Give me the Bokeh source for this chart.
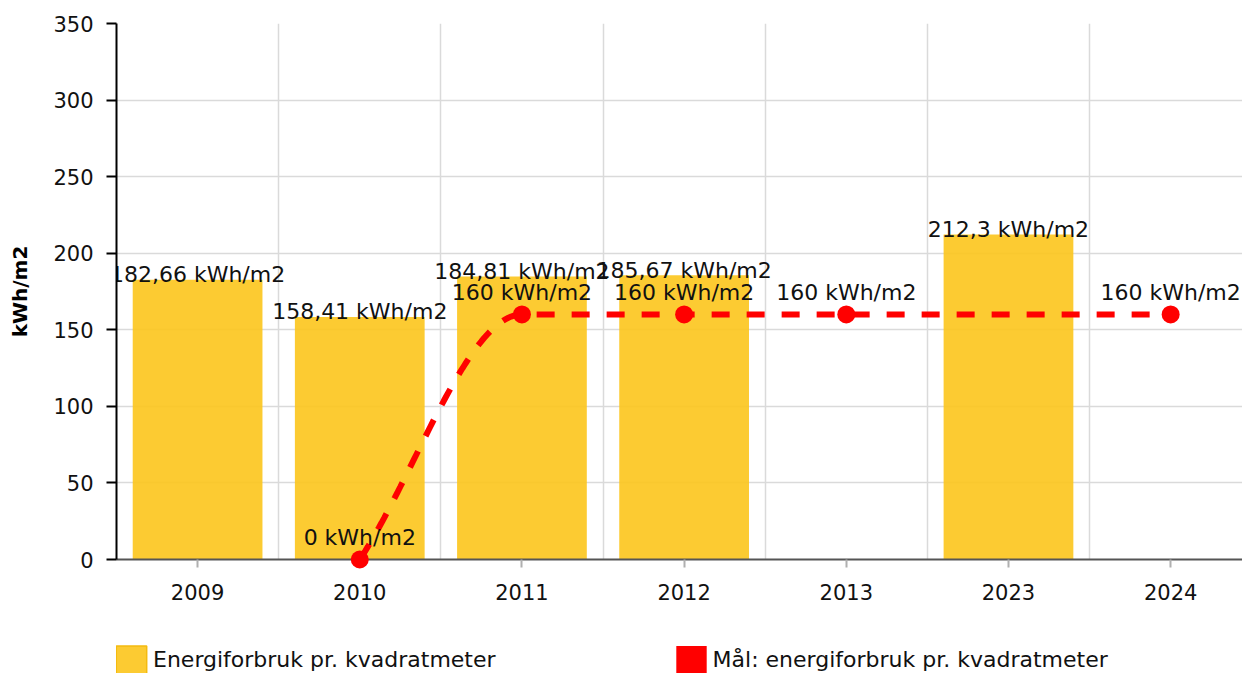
from bokeh.plotting import figure
from bokeh.layouts import column
from bokeh.models import FixedTicker, Range1d, Legend, LegendItem, ColumnDataSource
from bokeh.core.properties import value
from bokeh.embed import file_html
from bokeh.resources import INLINE

# ---- data ----
years = ["2009", "2010", "2011", "2012", "2013", "2023", "2024"]
usage = [182.66, 158.41, 184.81, 185.67, None, 212.3, None]
target = [None, 0, 160, 160, 160, None, 160]
y_ticks = [0, 50, 100, 150, 200, 250, 300, 350]
unit = "kWh/m2"
usage_name = "Energiforbruk pr. kvadratmeter"
target_name = "Mål: energiforbruk pr. kvadratmeter"

FONT = "DejaVu Sans"
TXT = "#111111"
BAR = "#fcc51c"
RED = "#ff0000"


def fmt(v):
    return f"{v:g}".replace(".", ",") + " " + unit


# bars
bx = [i for i, v in enumerate(usage) if v is not None]
btop = [v for v in usage if v is not None]
bar_src = ColumnDataSource(dict(x=bx, top=btop, label=[fmt(v) for v in btop]))

# target line points (nulls connected)
tx = [i for i, v in enumerate(target) if v is not None]
ty = [v for v in target if v is not None]
line_src = ColumnDataSource(dict(x=tx, y=ty, label=[fmt(v) for v in ty]))


def monotone_path(px, py, steps=60):
    """Monotone cubic (Fritsch-Carlson) interpolation, rendered as Bezier."""
    n = len(px)
    dk = [(py[i + 1] - py[i]) / (px[i + 1] - px[i]) for i in range(n - 1)]
    mk = [0.0] * n
    for i in range(n):
        if i == 0:
            mk[i] = dk[0]
        elif i == n - 1:
            mk[i] = dk[-1]
        elif (dk[i - 1] > 0) - (dk[i - 1] < 0) != (dk[i] > 0) - (dk[i] < 0):
            mk[i] = 0.0
        else:
            mk[i] = (dk[i - 1] + dk[i]) / 2
    for i in range(n - 1):
        if dk[i] == 0:
            mk[i] = mk[i + 1] = 0.0
            continue
        a, b = mk[i] / dk[i], mk[i + 1] / dk[i]
        s = a * a + b * b
        if s > 9:
            t = 3 / s ** 0.5
            mk[i], mk[i + 1] = t * a * dk[i], t * b * dk[i]
    xs, ys = [px[0]], [py[0]]
    for i in range(n - 1):
        h = (px[i + 1] - px[i]) / 3
        p0 = (px[i], py[i])
        c1 = (px[i] + h, py[i] + mk[i] * h)
        c2 = (px[i + 1] - h, py[i + 1] - mk[i + 1] * h)
        p3 = (px[i + 1], py[i + 1])
        for k in range(1, steps + 1):
            t = k / steps
            a, b, c, e = (1 - t) ** 3, 3 * (1 - t) ** 2 * t, 3 * (1 - t) * t ** 2, t ** 3
            xs.append(a * p0[0] + b * c1[0] + c * c2[0] + e * p3[0])
            ys.append(a * p0[1] + b * c1[1] + c * c2[1] + e * p3[1])
    return xs, ys


cx, cy = monotone_path(tx, ty)

p = figure(width=1242, height=630,
           x_range=Range1d(-0.5, 6.443), y_range=Range1d(0, 350),
           output_backend="svg", toolbar_location=None,
           min_border_left=116, min_border_right=0, min_border_top=23,
           min_border_bottom=71)
p.outline_line_color = None

# axes
p.yaxis.ticker = FixedTicker(ticks=y_ticks)
p.yaxis.axis_line_color = "black"
p.yaxis.axis_line_width = 2
p.yaxis.major_tick_line_color = "black"
p.yaxis.major_tick_line_width = 2
p.yaxis.major_tick_out = 10
p.yaxis.major_tick_in = 0
p.yaxis.minor_tick_line_color = None
p.yaxis.major_label_text_font = FONT
p.yaxis.major_label_text_font_size = "21px"
p.yaxis.major_label_text_color = TXT
p.yaxis.major_label_standoff = 13
p.yaxis.axis_label = unit
p.yaxis.axis_label_text_font = FONT
p.yaxis.axis_label_text_font_size = "20px"
p.yaxis.axis_label_text_font_style = "bold"
p.yaxis.axis_label_text_color = "black"
p.yaxis.axis_label_standoff = 18

p.xaxis.ticker = FixedTicker(ticks=list(range(len(years))))
p.xaxis.major_label_overrides = {i: y for i, y in enumerate(years)}
p.xaxis.axis_line_color = "#555555"
p.xaxis.axis_line_width = 2
p.xaxis.major_tick_line_color = "#b0b0b0"
p.xaxis.major_tick_line_width = 2
p.xaxis.major_tick_out = 8
p.xaxis.major_tick_in = 0
p.xaxis.minor_tick_line_color = None
p.xaxis.major_label_text_font = FONT
p.xaxis.major_label_text_font_size = "21px"
p.xaxis.major_label_text_color = TXT
p.xaxis.major_label_standoff = 16

# grids
p.ygrid.ticker = FixedTicker(ticks=y_ticks)
p.ygrid.grid_line_color = "#dadada"
p.ygrid.grid_line_width = 1.5
p.xgrid.ticker = FixedTicker(ticks=[i + 0.5 for i in range(len(years) - 1)])
p.xgrid.grid_line_color = "#dadada"
p.xgrid.grid_line_width = 1.5

# bars
bars = p.vbar(x="x", top="top", width=0.8, source=bar_src,
              fill_color=BAR, fill_alpha=0.9, line_color=None)
p.text(x="x", y="top", text="label", source=bar_src,
       text_font=value(FONT), text_font_size="22px", text_color=TXT,
       text_align="center", text_baseline="alphabetic", y_offset=-5)

# target curve
p.line(cx, cy, line_color=RED, line_width=6, line_dash="18 17")
p.scatter(x="x", y="y", source=line_src, size=18, marker="circle",
          fill_color=RED, line_color=None, level="overlay")
p.text(x="x", y="y", text="label", source=line_src,
       text_font=value(FONT), text_font_size="22px", text_color=TXT,
       text_align="center", text_baseline="alphabetic", y_offset=-22)

# ---- legend strip ----
lp = figure(width=1242, height=43, x_range=Range1d(0, 1), y_range=Range1d(0, 1),
            x_axis_type=None, y_axis_type=None,
            output_backend="svg", toolbar_location=None,
            min_border=0, min_border_left=0, min_border_right=0,
            min_border_top=0, min_border_bottom=0)
lp.outline_line_color = None
lp.grid.visible = False
sw1 = lp.vbar(x="x", top="top", source=bar_src, width=0.8,
              fill_color=BAR, fill_alpha=0.9, line_color="#f4bb10",
              line_width=1.5, visible=False)
sw2 = lp.vbar(x="x", top="y", source=line_src, width=0.8,
              fill_color=RED, line_color=None, visible=False)
legend = Legend(items=[LegendItem(label=usage_name, renderers=[sw1]),
                       LegendItem(label=target_name, renderers=[sw2])],
                orientation="horizontal", location=(-4, -4),
                margin=0, padding=0, spacing=176,
                glyph_width=38, glyph_height=35, label_height=35,
                label_standoff=3,
                label_text_font=FONT, label_text_font_size="22px",
                label_text_color=TXT,
                inactive_fill_alpha=0,
                border_line_color=None, background_fill_alpha=0)
lp.add_layout(legend, "center")

layout = column(p, lp, spacing=0)
open("out.html", "w").write(file_html(layout, INLINE))
